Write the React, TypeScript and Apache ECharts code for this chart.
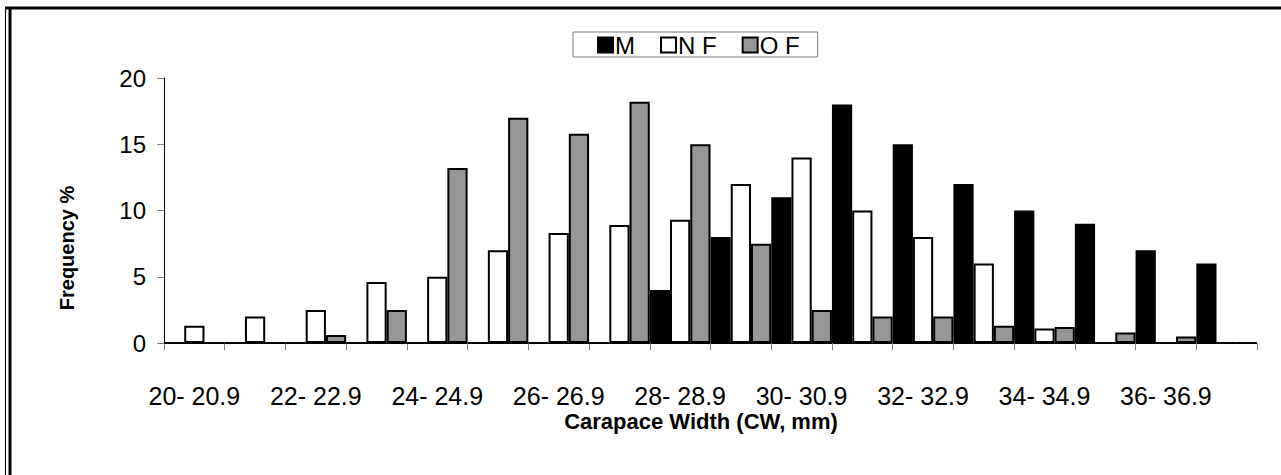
import React, { useEffect, useRef } from "react";
import * as echarts from "echarts";

const categories = [
  "20- 20.9", "21- 21.9", "22- 22.9", "23- 23.9", "24- 24.9", "25- 25.9",
  "26- 26.9", "27- 27.9", "28- 28.9", "29- 29.9", "30- 30.9", "31- 31.9",
  "32- 32.9", "33- 33.9", "34- 34.9", "35- 35.9", "36- 36.9", "37- 37.9",
];
const seriesNames = ["M", "N F", "O F"];
const valuesM = [0, 0, 0, 0, 0, 0, 0, 0, 4, 8, 11, 18, 15, 12, 10, 9, 7, 6];
const valuesNF = [1.3, 2, 2.5, 4.6, 5, 7, 8.3, 8.9, 9.3, 12, 14, 10, 8, 6, 1.1, 0, 0, 0];
const valuesOF = [0, 0, 0.6, 2.5, 13.2, 17, 15.8, 18.2, 15, 7.5, 2.5, 2, 2, 1.3, 1.2, 0.8, 0.5, 0];
const yTicks = { min: 0, max: 20, interval: 5 };

const FONT = "Arial, 'Liberation Sans', sans-serif";

export default function App() {
  const ref = useRef<HTMLDivElement>(null);
  useEffect(() => {
    if (!ref.current) return;
    const chart = echarts.init(ref.current, null, { renderer: "svg" });
    const fills = ["#000000", "#ffffff", "#969696"];
    const data = [valuesM, valuesNF, valuesOF];
    chart.setOption({
      animation: false,
      backgroundColor: "#ffffff",
      textStyle: { fontFamily: FONT },
      grid: { left: 164, right: 24, top: 78, bottom: 132, containLabel: false },
      legend: {
        left: 573,
        top: 32,
        padding: [1, 18, 0, 24],
        itemGap: 25,
        itemWidth: 15,
        itemHeight: 15,
        backgroundColor: "#ffffff",
        borderColor: "#808080",
        borderWidth: 1,
        borderRadius: 0,
        icon: "rect",
        textStyle: {
          fontSize: 24,
          lineHeight: 24,
          color: "#000",
          fontFamily: FONT,
          padding: [0, 0, 0, -3],
        },
        data: seriesNames,
      },
      xAxis: {
        type: "category",
        data: categories,
        boundaryGap: true,
        axisLine: { show: true, lineStyle: { color: "#000", width: 1 } },
        axisTick: { show: true, interval: 0, length: 7, lineStyle: { color: "#808080", width: 1 } },
        axisLabel: { interval: 1, margin: 40, fontSize: 25, lineHeight: 25, color: "#000", fontFamily: FONT },
        splitLine: { show: false },
      },
      yAxis: {
        type: "value",
        min: yTicks.min,
        max: yTicks.max,
        interval: yTicks.interval,
        axisLine: { show: true, lineStyle: { color: "#000", width: 1 } },
        axisTick: { show: true, length: 7, lineStyle: { color: "#808080", width: 1 } },
        axisLabel: { margin: 18, fontSize: 24, color: "#000", fontFamily: FONT },
        splitLine: { show: false },
      },
      series: seriesNames.map((name, i) => ({
        name,
        type: "bar",
        data: data[i],
        barGap: "0%",
        barCategoryGap: "0%",
        itemStyle: { color: fills[i], borderColor: "#000", borderWidth: 2 },
      })),
      graphic: [
        { type: "line", shape: { x1: 5.5, y1: 8, x2: 5.5, y2: 475 }, style: { stroke: "#000", lineWidth: 1 } },
        { type: "line", shape: { x1: 10, y1: 8, x2: 10, y2: 475 }, style: { stroke: "#000", lineWidth: 3 } },
        { type: "line", shape: { x1: 5, y1: 8, x2: 1281, y2: 8 }, style: { stroke: "#000", lineWidth: 3 } },
        {
          type: "text",
          x: 67,
          y: 248,
          rotation: Math.PI / 2,
          style: {
            text: "Frequency %",
            fontSize: 20,
            fontWeight: "bold",
            fontFamily: FONT,
            fill: "#000",
            textAlign: "center",
            textVerticalAlign: "middle",
          },
        },
        {
          type: "text",
          x: 701,
          y: 421,
          style: {
            text: "Carapace Width (CW, mm)",
            fontSize: 22,
            fontWeight: "bold",
            fontFamily: FONT,
            fill: "#000",
            textAlign: "center",
            textVerticalAlign: "middle",
          },
        },
      ],
    });
    return () => chart.dispose();
  }, []);
  return (
    <div
      ref={ref}
      style={{ position: "absolute", left: 0, top: 0, width: 1281, height: 475 }}
    />
  );
}
